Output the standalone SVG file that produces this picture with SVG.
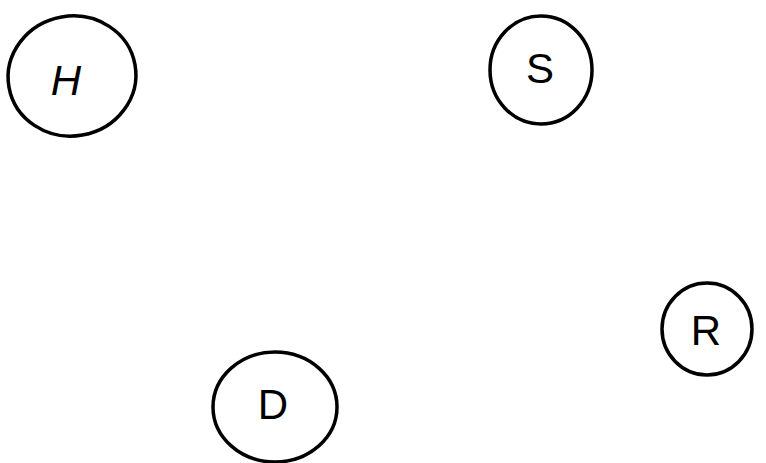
<svg xmlns="http://www.w3.org/2000/svg" width="766" height="463" viewBox="0 0 766 463">
<style>
.n{fill:none;stroke:#000;stroke-width:3.5}
.t{font-family:"Liberation Sans",Arial,sans-serif;font-size:42px;text-anchor:middle;dominant-baseline:central;fill:#000}
</style>
<rect width="766" height="463" fill="#fff"/>
<g id="connectors"></g>
<g id="node-H"><ellipse class="n" cx="72" cy="76" rx="64" ry="60" transform="rotate(-10 72 76)"/><text class="t" x="66" y="80" font-style="italic" font-size="38">H</text></g>
<g id="node-S"><ellipse class="n" cx="541" cy="70" rx="51" ry="54"/><text class="t" x="540" y="68">S</text></g>
<g id="node-R"><ellipse class="n" cx="707" cy="329" rx="45" ry="46"/><text class="t" x="706" y="330">R</text></g>
<g id="node-D"><ellipse class="n" cx="275" cy="407" rx="62" ry="55"/><text class="t" x="273" y="404" font-size="38">D</text></g>
</svg>
